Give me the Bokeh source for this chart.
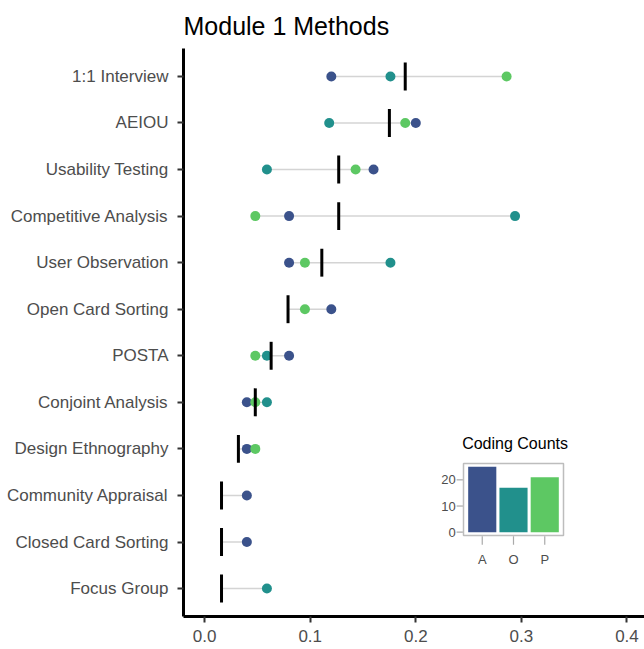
import math
from bokeh.plotting import figure
from bokeh.models import Range1d, FixedTicker, PrintfTickFormatter
from bokeh.core.properties import value
from bokeh.embed import file_html
from bokeh.resources import INLINE

nan = math.nan

methods = ["1:1 Interview", "AEIOU", "Usability Testing", "Competitive Analysis",
           "User Observation", "Open Card Sorting", "POSTA", "Conjoint Analysis",
           "Design Ethnography", "Community Appraisal", "Closed Card Sorting", "Focus Group"]
prop_A = [0.120, 0.200, 0.160, 0.080, 0.080, 0.120, 0.080, 0.040, 0.040, 0.040, 0.040, nan]
prop_O = [0.176, 0.118, 0.059, 0.294, 0.176, nan, 0.059, 0.059, nan, nan, nan, 0.059]
prop_P = [0.286, 0.190, 0.143, 0.048, 0.095, 0.095, 0.048, 0.048, 0.048, nan, nan, nan]
prop_all = [0.190, 0.175, 0.127, 0.127, 0.111, 0.079, 0.063, 0.048, 0.032, 0.016, 0.016, 0.016]

coders = ["A", "O", "P"]
coder_colors = ["#3b528b", "#21908c", "#5dc863"]
code_counts = [25, 17, 21]

x_ticks = [0.0, 0.1, 0.2, 0.3, 0.4]
count_ticks = [0, 10, 20]

FONT = "Liberation Sans"

# row positions: first method at top (1), last at bottom
ypos = [i + 1 for i in range(len(methods))]

p = figure(width=644, height=649,
           x_range=Range1d(-0.02, 0.4166),
           y_range=Range1d(len(methods) + 0.6, 0.4),
           output_backend="svg", toolbar_location=None,
           min_border_left=183, min_border_right=0, min_border_top=48, min_border_bottom=33)
p.outline_line_color = None
p.xgrid.visible = False
p.ygrid.visible = False
p.background_fill_color = "white"
p.border_fill_color = "white"

p.title.text = "Module 1 Methods"
p.title.text_font = FONT
p.title.text_font_size = "25px"
p.title.text_font_style = "normal"
p.title.text_color = "black"
p.title.align = "left"
p.title.standoff = 18

# range lines from min to max
lo, hi = [], []
for a, o, pp, m in zip(prop_A, prop_O, prop_P, prop_all):
    vals = [v for v in (a, o, pp, m) if not math.isnan(v)]
    lo.append(min(vals))
    hi.append(max(vals))
p.segment(x0=lo, x1=hi, y0=ypos, y1=ypos, line_color="#d4d4d4", line_width=1.5)

for vals, col in zip((prop_A, prop_O, prop_P), coder_colors):
    p.scatter(x=vals, y=ypos, size=10, fill_color=col, line_color=col, line_width=0)

p.rect(x=prop_all, y=ypos, width=3, width_units="screen", height=0.6,
       fill_color="black", line_color=None)

for ax in (p.xaxis[0], p.yaxis[0]):
    ax.axis_line_color = "black"
    ax.axis_line_width = 3
    ax.major_tick_line_color = "#333333"
    ax.major_tick_line_width = 2
    ax.major_tick_out = 6
    ax.major_tick_in = 0
    ax.minor_tick_line_color = None
    ax.major_label_text_font = FONT
    ax.major_label_text_font_size = "17px"
    ax.major_label_text_color = "#4d4d4d"
p.xaxis.major_label_standoff = 7
p.yaxis.major_label_standoff = 9
p.xaxis.ticker = FixedTicker(ticks=x_ticks)
p.xaxis.formatter = PrintfTickFormatter(format="%.1f")
p.yaxis.ticker = FixedTicker(ticks=ypos)
p.yaxis.major_label_overrides = {y: m for y, m in zip(ypos, methods)}

# ---- inset bar chart drawn on its own scales inside the main frame ----
# inset panel spans x 0.4..3.6 (bars at 1,2,3) and y -1.25..26.25
ix0, ix1, iy0, iy1 = 0.4, 3.6, -1.25, 26.25
p.extra_x_ranges = {"ix": Range1d(-8.56, 6.192)}
p.extra_y_ranges = {"iy": Range1d(-32.19, 184.75)}
IR = dict(x_range_name="ix", y_range_name="iy")
bar_x = [i + 1 for i in range(len(coders))]

p.quad(left=[ix0], right=[ix1], bottom=[iy0], top=[iy1], fill_color="white",
       line_color="#bdbdbd", line_width=1.5, **IR)
p.vbar(x=bar_x, top=code_counts, bottom=0, width=0.9, fill_color=coder_colors,
       line_color=None, **IR)
# inset y ticks + labels
p.segment(x0=[ix0 - 0.22] * len(count_ticks), x1=[ix0 - 0.02] * len(count_ticks),
          y0=count_ticks, y1=count_ticks, line_color="#aaaaaa", line_width=1.2, **IR)
p.text(x=[ix0 - 0.25] * len(count_ticks), y=count_ticks, text=[str(t) for t in count_ticks],
       text_font=value(FONT), text_font_size="13px", text_color="#4d4d4d",
       text_align="right", text_baseline="middle", **IR)
# inset x ticks + labels
p.segment(x0=bar_x, x1=bar_x, y0=[iy0 - 0.3] * 3, y1=[iy0 - 3.5] * 3,
          line_color="#aaaaaa", line_width=1.2, **IR)
p.text(x=bar_x, y=[iy0 - 6.4] * 3, text=coders,
       text_font=value(FONT), text_font_size="13px", text_color="#4d4d4d",
       text_align="center", text_baseline="top", **IR)
# inset title
p.text(x=[2.05], y=[iy1 + 7.6], text=["Coding Counts"],
       text_font=value(FONT), text_font_size="16px", text_color="black",
       text_align="center", text_baseline="alphabetic", **IR)

open("out.html", "w").write(file_html(p, INLINE))
